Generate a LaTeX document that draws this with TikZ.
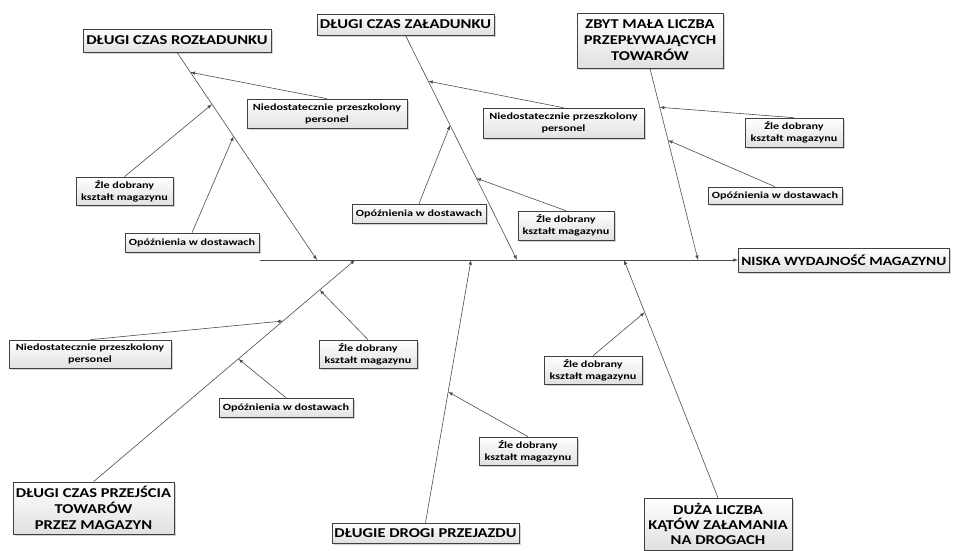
\documentclass[tikz,border=0pt]{standalone}
\usepackage{fontspec}
\setmainfont{Carlito}
\newfontfamily\headfont[FakeStretch=1.22]{Carlito}
\newfontfamily\itemfont[FakeStretch=1.28]{Carlito}
\usepackage{tikz}
\usetikzlibrary{calc}
\usetikzlibrary{shadows}
\tikzset{>=latex}
\tikzset{
    effect/.style={draw=black!75,line width=0.7pt,top color=white,bottom color=black!12,
    drop shadow={shadow xshift=1.5pt,shadow yshift=-1.5pt,opacity=0.35},
    inner sep=0pt,align=center,font=\headfont\fontsize{13.5}{16}\selectfont\bfseries},
    cause/.style={effect,line width=0.6pt,font=\itemfont\fontsize{9.5}{12}\selectfont\bfseries},
    bone/.style={->,draw=black!70,line width=0.6pt}
}

\begin{document}
\begin{tikzpicture}[x=1pt,y=-1pt]
    \useasboundingbox (0,0) rectangle (953,550);

    \coordinate (sp) at (260,260);
    \node [effect,anchor=west,minimum height=24pt,inner xsep=3pt,
    font=\headfont\fontsize{12.6}{15}\selectfont\bfseries] (res) at (738,260)
    {NISKA WYDAJNOŚĆ MAGAZYNU};
    \draw [bone] (sp) -- (res);

    \coordinate (s1) at (317,260);
    \coordinate (s2) at (517,260);
    \coordinate (s3) at (698,260);
    \coordinate (s4) at (355,260);
    \coordinate (s5) at (471,260);
    \coordinate (s6) at (624,260);

    \node [effect,minimum width=188pt,minimum height=23pt] (r1) at (177,40.5)
    {DŁUGI CZAS ROZŁADUNKU};
    \node [effect,minimum width=177pt,minimum height=21pt] (r2) at (405.5,24.5)
    {DŁUGI CZAS ZAŁADUNKU};
    \node [effect,minimum width=146pt,minimum height=55pt] (r3) at (650,40.5)
    {ZBYT MAŁA LICZBA\\PRZEPŁYWAJĄCYCH\\TOWARÓW};
    \node [effect,minimum width=161pt,minimum height=52pt] (r4) at (93.5,508)
    {DŁUGI CZAS PRZEJŚCIA\\TOWARÓW\\PRZEZ MAGAZYN};
    \node [effect,minimum width=187pt,minimum height=20pt] (r5) at (425.5,533)
    {DŁUGIE DROGI PRZEJAZDU};
    \node [effect,minimum width=148pt,minimum height=52pt,
    font=\headfont\fontsize{13.5}{15}\selectfont\bfseries] (r6) at (718,524)
    {DUŻA LICZBA\\KĄTÓW ZAŁAMANIA\\NA DROGACH};

    \draw [bone] (r1.south) -- (s1);
    \draw [bone] (r2.south) -- (s2);
    \draw [bone] (r3.south) -- (s3);
    \draw [bone] (r4.north) -- (s4);
    \draw [bone] (r5.north) -- (s5);
    \draw [bone] (r6.north) -- (s6);

    \coordinate (b1a) at ($(r1.south)!0.096!(s1)$);
    \coordinate (b1b) at ($(r1.south)!0.25!(s1)$);
    \coordinate (b1c) at ($(r1.south)!0.404!(s1)$);
    \coordinate (b2a) at ($(r2.south)!0.204!(s2)$);
    \coordinate (b2b) at ($(r2.south)!0.40!(s2)$);
    \coordinate (b2c) at ($(r2.south)!0.636!(s2)$);
    \coordinate (b3a) at ($(r3.south)!0.203!(s3)$);
    \coordinate (b3b) at ($(r3.south)!0.375!(s3)$);
    \coordinate (b4a) at ($(r4.north)!0.725!(s4)$);
    \coordinate (b4b) at ($(r4.north)!0.865!(s4)$);
    \coordinate (b4c) at ($(r4.north)!0.554!(s4)$);
    \coordinate (b5a) at ($(r5.north)!0.498!(s5)$);
    \coordinate (b6a) at ($(r6.north)!0.78!(s6)$);

    \node [cause,minimum width=160pt,minimum height=29pt] (n1) at (327,113.5)
    {Niedostatecznie przeszkolony\\personel};
    \node [cause,minimum width=97pt,minimum height=28pt] (z1) at (124.5,191)
    {Źle dobrany\\kształt magazynu};
    \node [cause,minimum width=134pt,minimum height=19pt] (o1) at (192,242.5)
    {Opóźnienia w dostawach};

    \node [cause,minimum width=161pt,minimum height=30pt] (n2) at (563.5,123)
    {Niedostatecznie przeszkolony\\personel};
    \node [cause,minimum width=134pt,minimum height=19pt] (o2) at (419,213.5)
    {Opóźnienia w dostawach};
    \node [cause,minimum width=96pt,minimum height=29pt] (z2) at (566,225.5)
    {Źle dobrany\\kształt magazynu};

    \node [cause,minimum width=98pt,minimum height=29pt] (z3) at (794,132.5)
    {Źle dobrany\\kształt magazynu};
    \node [cause,minimum width=134pt,minimum height=17pt] (o3) at (775,195.5)
    {Opóźnienia w dostawach};

    \node [cause,minimum width=162pt,minimum height=28pt] (n4) at (90,354)
    {Niedostatecznie przeszkolony\\personel};
    \node [cause,minimum width=98pt,minimum height=28pt] (z4) at (368,354)
    {Źle dobrany\\kształt magazynu};
    \node [cause,minimum width=134pt,minimum height=19pt] (o4) at (286,407.5)
    {Opóźnienia w dostawach};

    \node [cause,minimum width=98pt,minimum height=28pt] (z5) at (528,451)
    {Źle dobrany\\kształt magazynu};
    \node [cause,minimum width=98pt,minimum height=28pt] (z6) at (593,370)
    {Źle dobrany\\kształt magazynu};

    \draw [bone] (n1.north) -- (b1a);
    \draw [bone] (z1.north) -- (b1b);
    \draw [bone] (o1.north) -- (b1c);
    \draw [bone] (n2.north) -- (b2a);
    \draw [bone] (o2.north) -- (b2b);
    \draw [bone] (z2.north) -- (b2c);
    \draw [bone] (z3.north) -- (b3a);
    \draw [bone] (o3.north) -- (b3b);
    \draw [bone] (n4.north) -- (b4a);
    \draw [bone] (z4.north) -- (b4b);
    \draw [bone] (o4.north) -- (b4c);
    \draw [bone] (z5.north) -- (b5a);
    \draw [bone] (z6.north) -- (b6a);
\end{tikzpicture}
\end{document}
